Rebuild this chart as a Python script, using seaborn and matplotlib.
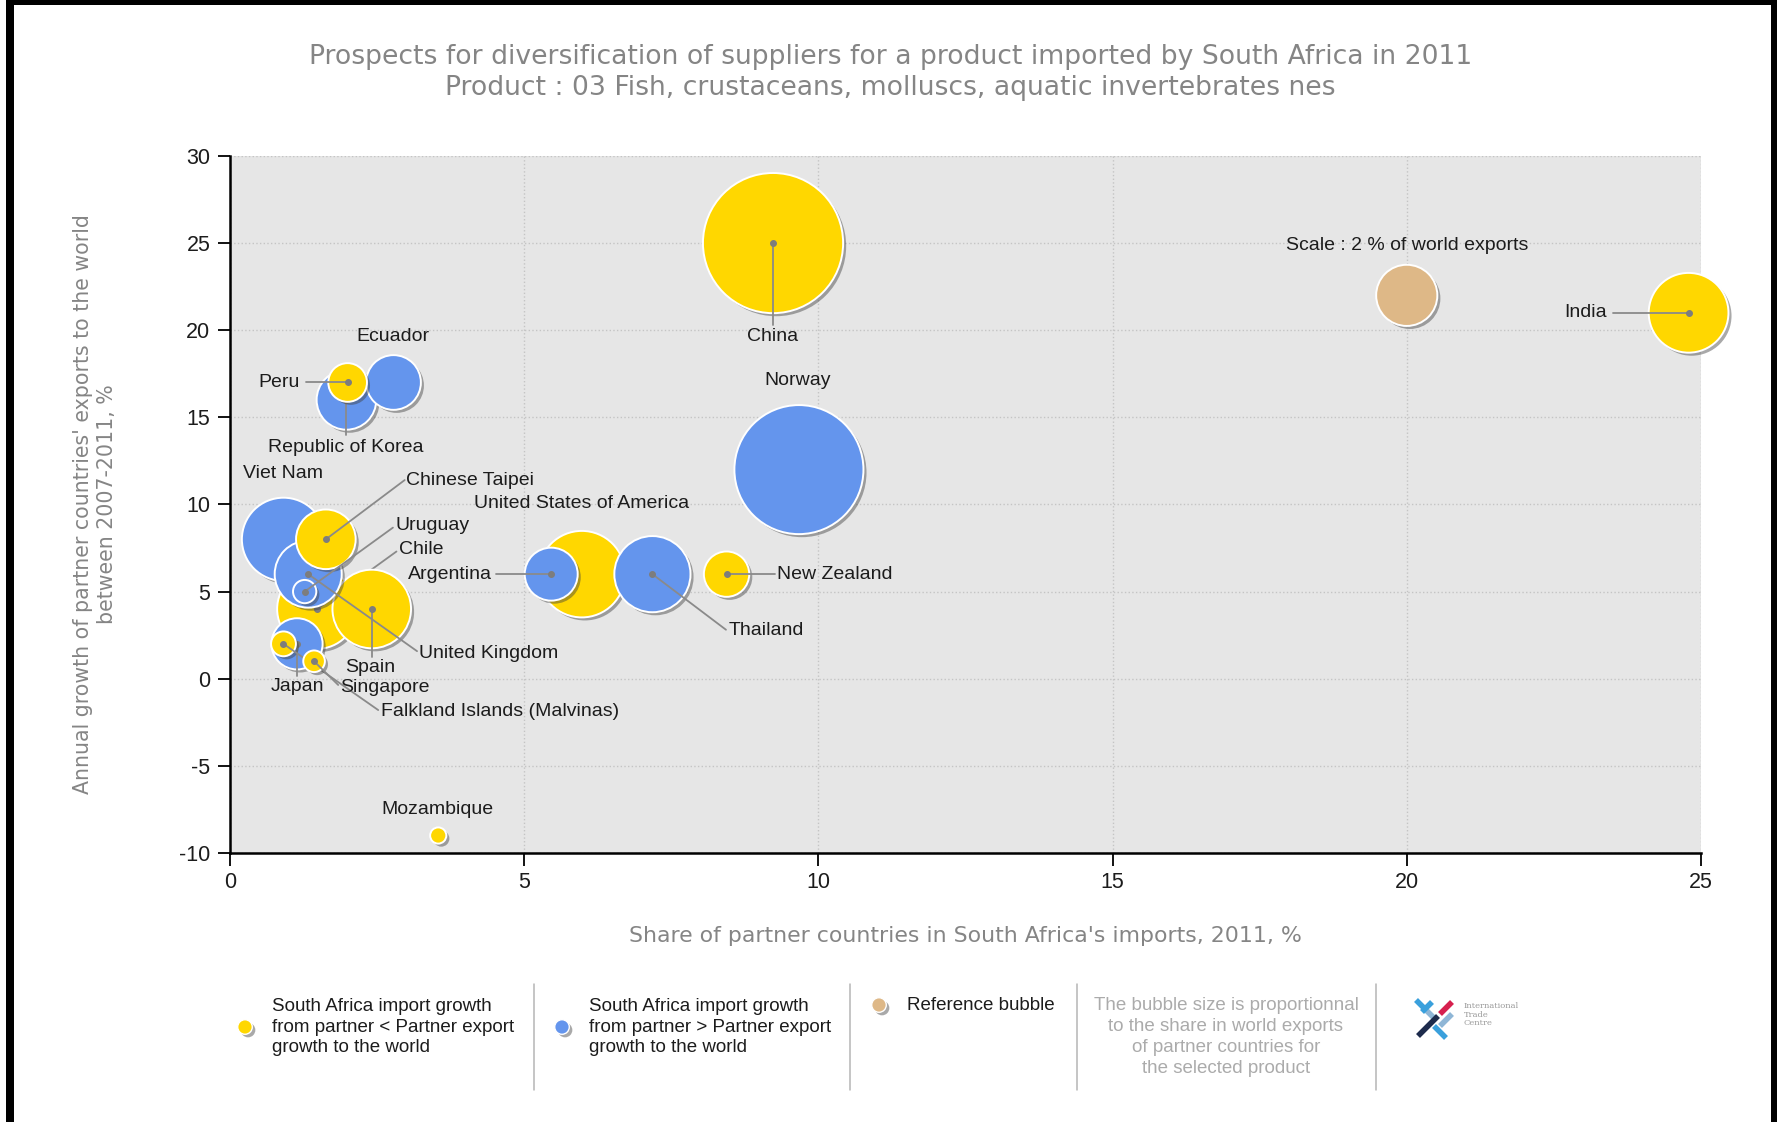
import numpy as np
import pandas as pd
import matplotlib
matplotlib.use("Agg")
import matplotlib.pyplot as plt
import matplotlib.patheffects as pe
from matplotlib.patches import Rectangle
import seaborn as sns

# -------------------- DATA --------------------
countries = ["China", "Norway", "Viet Nam", "Chile", "United States of America", "Spain",
             "India", "Thailand", "United Kingdom", "Republic of Korea", "Chinese Taipei",
             "Argentina", "Ecuador", "Japan", "New Zealand", "Peru",
             "Falkland Islands (Malvinas)", "Uruguay", "Singapore", "Mozambique"]
share_imports = [9.23, 9.67, 0.91, 1.48, 5.98, 2.41, 24.79, 7.18, 1.33, 1.98, 1.63,
                 5.46, 2.78, 1.14, 8.44, 2.00, 0.91, 1.27, 1.43, 3.54]
export_growth = [25, 12, 8, 4, 6, 4, 21, 6, 6, 16, 8, 6, 17, 2, 6, 17, 2, 5, 1, -9]
world_share = [10.5, 8.9, 3.7, 3.4, 4.0, 3.3, 3.4, 3.1, 2.4, 1.9, 1.9, 1.5, 1.6, 1.4,
               1.1, 0.8, 0.33, 0.29, 0.25, 0.14]
group = ["lower", "higher", "higher", "lower", "lower", "lower", "lower", "higher",
         "higher", "higher", "lower", "higher", "higher", "higher", "lower", "lower",
         "lower", "higher", "lower", "lower"]

# label anchor (data coords), alignment, and end of the leader line (nan = no line)
label_x = [9.23, 9.65, 0.905, 2.87, 5.97, 2.39, 23.40, 8.47, 3.22, 1.96, 2.99,
           4.45, 2.77, 1.14, 9.30, 1.19, 2.56, 2.81, 1.87, 3.52]
label_y = [19.66, 17.12, 11.79, 7.43, 10.03, 0.67, 21.0, 2.75, 1.45, 13.28, 11.40,
           6.0, 19.66, -0.44, 6.0, 17.0, -1.87, 8.80, -0.50, -7.53]
label_ha = ["center", "center", "center", "left", "center", "center", "right", "left",
            "left", "center", "left", "right", "center", "center", "left", "right",
            "left", "left", "left", "center"]
line_x = [9.23, np.nan, np.nan, 2.83, np.nan, 2.41, 23.50, 8.43, 3.18, 1.98, 2.97,
          4.53, np.nan, 1.14, 9.26, 1.29, 2.52, 2.77, 1.84, np.nan]
line_y = [20.3, np.nan, np.nan, 7.30, np.nan, 1.25, 21.0, 2.81, 1.58, 14.0, 11.40,
          6.0, np.nan, 0.15, 6.0, 17.0, -1.80, 8.67, -0.36, np.nan]

ref_x, ref_y, ref_share = [20.0], [22.0], [2.0]
ref_label = "Scale : 2 % of world exports"

x_ticks = [0, 5, 10, 15, 20, 25]
y_ticks = [-10, -5, 0, 5, 10, 15, 20, 25, 30]

df = pd.DataFrame({"country": countries, "x": share_imports, "y": export_growth,
                   "share": world_share, "group": group,
                   "lx": label_x, "ly": label_y, "ha": label_ha,
                   "ex": line_x, "ey": line_y})

# -------------------- STYLE --------------------
sns.set_style("whitegrid")
plt.rcParams["font.family"] = ["Liberation Sans", "DejaVu Sans"]
plt.rcParams["axes.unicode_minus"] = False

palette = {"lower": "#FFD700", "higher": "#6495ED"}
ref_color = "#DEB887"
s_per_pct = 970.0          # marker area (pt^2) per % of world exports
shadow = [pe.SimplePatchShadow(offset=(2.2, -2.2), shadow_rgbFace="#404040", alpha=0.45),
          pe.Normal()]
gray_title = "#858585"
text_col = "#1c1c1c"
lab_fs = 14

fig = plt.figure(figsize=(17.77, 11.22), dpi=100)
ax = fig.add_axes([0.1294, 0.2398, 0.8278, 0.6212])
ax.set_facecolor("#e6e6e6")

# bubbles, largest first so small ones end up on top
df = df.sort_values("share", ascending=False, kind="stable").reset_index(drop=True)
for i, r in df.iterrows():
    z = 3 + i * 0.1
    sns.scatterplot(x=[r.x], y=[r.y], s=s_per_pct * r.share, color=palette[r.group],
                    edgecolor="white", linewidth=1.4, path_effects=shadow,
                    clip_on=False, zorder=z, legend=False, ax=ax)
    if not np.isnan(r.ex):
        ax.plot([r.x, r.ex], [r.y, r.ey], color="#8a8a8a", lw=1.3,
                zorder=z + 0.05, clip_on=False)
        ax.plot([r.x], [r.y], "o", ms=4, color="#7d7d7d", zorder=z + 0.06,
                clip_on=False)

# reference bubble
sns.scatterplot(x=ref_x, y=ref_y, s=[s_per_pct * v for v in ref_share], color=ref_color,
                edgecolor="white", linewidth=1.4, path_effects=shadow,
                clip_on=False, zorder=3, legend=False, ax=ax)
ax.text(ref_x[0], 24.86, ref_label, ha="center", va="center", fontsize=lab_fs,
        color=text_col, zorder=10)

for _, r in df.iterrows():
    ax.text(r.lx, r.ly, r.country, ha=r.ha, va="center", fontsize=lab_fs,
            color=text_col, zorder=10)

ax.set_xlim(0, 25)
ax.set_ylim(-10, 30)
ax.set_xticks(x_ticks)
ax.set_yticks(y_ticks)
ax.set_xlabel("")
ax.set_ylabel("")
ax.grid(True, color="#c4c4c4", linestyle=":", linewidth=1.0)
for s in ["top", "right"]:
    ax.spines[s].set_visible(False)
for s in ["left", "bottom"]:
    ax.spines[s].set_color("black")
    ax.spines[s].set_linewidth(1.8)
    ax.spines[s].set_zorder(2.5)
ax.tick_params(axis="both", which="major", bottom=True, left=True, direction="out",
               length=9, width=1.3, color="black", labelsize=15.5, labelcolor=text_col,
               pad=5)

# -------------------- TITLES --------------------
fig.text(0.501, 0.949, "Prospects for diversification of suppliers for a product imported by South Africa in 2011",
         ha="center", va="center", fontsize=19.2, color=gray_title, family="DejaVu Sans")
fig.text(0.501, 0.9216, "Product : 03 Fish, crustaceans, molluscs, aquatic invertebrates nes",
         ha="center", va="center", fontsize=19.2, color=gray_title, family="DejaVu Sans")
fig.text(0.5433, 0.1658, "Share of partner countries in South Africa's imports, 2011, %",
         ha="center", va="center", fontsize=15.8, color=gray_title, family="DejaVu Sans")
fig.text(0.0535, 0.5504, "Annual growth of partner countries' exports to the world\nbetween 2007-2011, %",
         ha="center", va="center", ma="center", rotation=90, fontsize=14.8,
         color=gray_title, family="DejaVu Sans", linespacing=1.3)

# -------------------- LEGEND STRIP (pixel coords) --------------------
ov = fig.add_axes([0, 0, 1, 1], zorder=20)
ov.set_xlim(0, 1777)
ov.set_ylim(1122, 0)
ov.axis("off")
ov.patch.set_alpha(0)

sns.scatterplot(x=[245, 562, 879], y=[1027, 1027, 1005], s=110,
                hue=["lower", "higher", "ref"],
                palette={**palette, "ref": ref_color}, edgecolor="white", linewidth=1,
                path_effects=shadow, legend=False, ax=ov)
for sx in [534, 850, 1077, 1376]:
    ov.plot([sx, sx], [984, 1090], color="#b5b5b5", lw=1.1)

leg_fs = 13.5
ov.text(272, 1027, "South Africa import growth\nfrom partner < Partner export\ngrowth to the world",
        ha="left", va="center", fontsize=leg_fs, color=text_col, linespacing=1.3)
ov.text(589, 1027, "South Africa import growth\nfrom partner > Partner export\ngrowth to the world",
        ha="left", va="center", fontsize=leg_fs, color=text_col, linespacing=1.3)
ov.text(907, 1005, "Reference bubble", ha="left", va="center", fontsize=leg_fs, color=text_col)
ov.text(1226, 1037, "The bubble size is proportionnal\nto the share in world exports\nof partner countries for\nthe selected product",
        ha="center", va="center", ma="center", fontsize=leg_fs, color="#ababab", linespacing=1.3)

# small ITC logo
logo = [((1416, 1000), (1424, 1008), "#3aa0dc"), ((1426, 1010), (1436, 1020), "#8fb6d6"),
        ((1418, 1036), (1438, 1016), "#1d2b4c"), ((1440, 1014), (1452, 1002), "#d6204e"),
        ((1434, 1026), (1446, 1038), "#3aa0dc"), ((1440, 1026), (1452, 1014), "#8fb6d6"),
        ((1422, 1012), (1432, 1002), "#3aa0dc")]
for (x0, y0), (x1, y1), c in logo:
    ov.plot([x0, x1], [y0, y1], color=c, lw=4, solid_capstyle="butt")
ov.text(1464, 1002, "International\nTrade\nCentre", ha="left", va="top", fontsize=6,
        color="#9a9a9a", linespacing=1.1, family="DejaVu Serif")

# black frame of the screenshot
ov.add_patch(Rectangle((6, 0), 1771, 5, color="black", lw=0))
ov.add_patch(Rectangle((6, 0), 8, 1122, color="black", lw=0))
ov.add_patch(Rectangle((1771, 0), 6, 1122, color="black", lw=0))

fig.savefig("out.png", dpi=100, facecolor="white")
